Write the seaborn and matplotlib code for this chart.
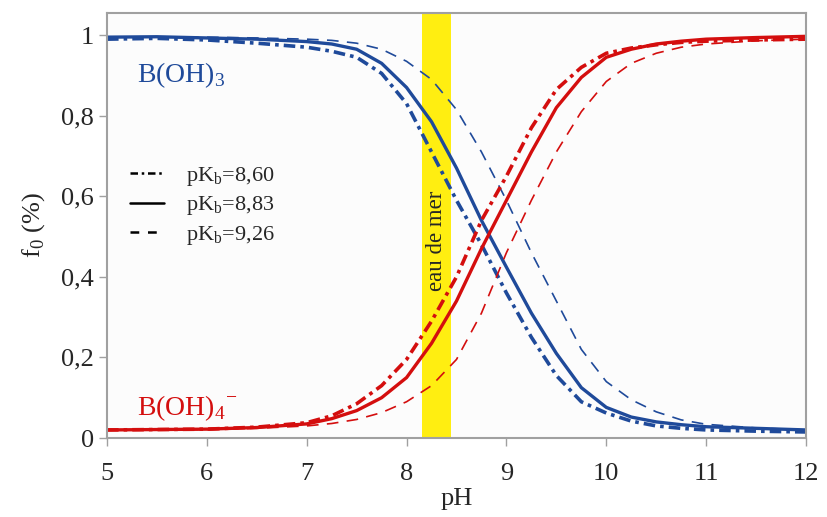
import numpy as np
import pandas as pd
import seaborn as sns
import matplotlib.pyplot as plt
from matplotlib.lines import Line2D
from matplotlib.ticker import FuncFormatter

# pH grid
ph = [5, 5.5, 6, 6.5, 7, 7.25, 7.5, 7.75, 8.0, 8.25, 8.5, 8.75, 9.0, 9.25,
      9.5, 9.75, 10.0, 10.25, 10.5, 10.75, 11, 11.5, 12]

# B(OH)3 fraction
boh3_860 = [0.99, 0.992, 0.988, 0.98, 0.97, 0.96, 0.945, 0.905, 0.83, 0.71, 0.59, 0.48,
            0.36, 0.25, 0.155, 0.09, 0.062, 0.042, 0.03, 0.024, 0.02, 0.017, 0.015]
boh3_883 = [0.995, 0.996, 0.993, 0.99, 0.984, 0.978, 0.965, 0.93, 0.87, 0.785, 0.67, 0.54,
            0.424, 0.31, 0.21, 0.125, 0.076, 0.052, 0.04, 0.033, 0.028, 0.024, 0.02]
boh3_926 = [0.995, 0.996, 0.995, 0.993, 0.99, 0.987, 0.98, 0.965, 0.935, 0.89, 0.815, 0.71,
            0.59, 0.46, 0.34, 0.22, 0.14, 0.095, 0.065, 0.045, 0.034, 0.025, 0.02]

# B(OH)4- fraction
boh4_860 = [0.02, 0.021, 0.022, 0.027, 0.038, 0.055, 0.085, 0.13, 0.195, 0.29, 0.40, 0.54,
            0.65, 0.77, 0.865, 0.92, 0.955, 0.968, 0.976, 0.982, 0.985, 0.988, 0.99]
boh4_883 = [0.02, 0.021, 0.022, 0.026, 0.035, 0.048, 0.068, 0.10, 0.15, 0.235, 0.34, 0.47,
            0.59, 0.71, 0.82, 0.895, 0.945, 0.965, 0.978, 0.985, 0.99, 0.994, 0.997]
boh4_926 = [0.02, 0.02, 0.021, 0.024, 0.03, 0.036, 0.046, 0.063, 0.09, 0.13, 0.195, 0.31,
            0.46, 0.59, 0.71, 0.81, 0.885, 0.93, 0.955, 0.97, 0.978, 0.986, 0.99]

seawater = [8.15, 8.44]
legend_labels = [r'pK$_\mathrm{b}$=8,60', r'pK$_\mathrm{b}$=8,83', r'pK$_\mathrm{b}$=9,26']

blue = '#1f4a9a'
red = '#d40e0e'
dashdot = (0, (3.2, 1.4, 1.0, 1.4))
dashed = (0, (7, 5))

sns.set_theme(style="white")
plt.rcParams['font.family'] = ['Liberation Serif', 'DejaVu Serif']
plt.rcParams['mathtext.fontset'] = 'custom'
plt.rcParams['mathtext.rm'] = 'Liberation Serif'

fig = plt.figure(figsize=(8.27, 5.17), dpi=100)
ax = fig.add_axes([0.1294, 0.1528, 0.8452, 0.8221])
ax.set_facecolor('#fcfcfc')

ax.axvspan(seawater[0], seawater[1], color='#ffee11', zorder=0, lw=0)

df = pd.DataFrame({'pH': ph, 'b3a': boh3_860, 'b3b': boh3_883, 'b3c': boh3_926,
                   'b4a': boh4_860, 'b4b': boh4_883, 'b4c': boh4_926})

for col, color in [('b3', blue), ('b4', red)]:
    sns.lineplot(data=df, x='pH', y=col + 'c', ax=ax, color=color, lw=1.2, linestyle=dashed)
    sns.lineplot(data=df, x='pH', y=col + 'a', ax=ax, color=color, lw=2.6, linestyle=dashdot)
    sns.lineplot(data=df, x='pH', y=col + 'b', ax=ax, color=color, lw=2.4)

ax.text(8.295, 0.49, 'eau de mer', rotation=90, ha='center', va='center', fontsize=16.5)
ax.text(5.3, 0.90, r'B(OH)$_3$', color=blue, fontsize=20, va='center')
ax.text(5.3, 0.075, r'B(OH)$_4$$^{-}$', color=red, fontsize=20, va='center')

handles = [Line2D([], [], color='black', lw=1.8, linestyle=(0, (3, 1.5, 1, 1.5))),
           Line2D([], [], color='black', lw=1.8),
           Line2D([], [], color='black', lw=1.8, linestyle=(0, (3.5, 3.5)))]
ax.legend(handles, legend_labels, loc='upper left', bbox_to_anchor=(0.004, 0.69),
          frameon=False, fontsize=16, handlelength=1.55, handletextpad=1.0, labelspacing=0.3)

ax.set_xlim(5, 12)
ax.set_ylim(0, 1.055)
ax.set_xticks(range(5, 13))
ax.set_yticks([0, 0.2, 0.4, 0.6, 0.8, 1.0])
ax.yaxis.set_major_formatter(FuncFormatter(lambda v, p: ('%g' % v).replace('.', ',')))
ax.tick_params(axis='both', labelsize=19, length=6, width=1, color='#a0a0a0', direction='out',
               bottom=True, left=True)
ax.tick_params(axis='x', pad=12)
for s in ax.spines.values():
    s.set_color('#a0a0a0')
    s.set_linewidth(1.5)
ax.set_xlabel('pH', fontsize=19, labelpad=2)
ax.set_ylabel(r'f$_0$ (%)', fontsize=19, labelpad=10)

plt.savefig('out.png', dpi=100)
